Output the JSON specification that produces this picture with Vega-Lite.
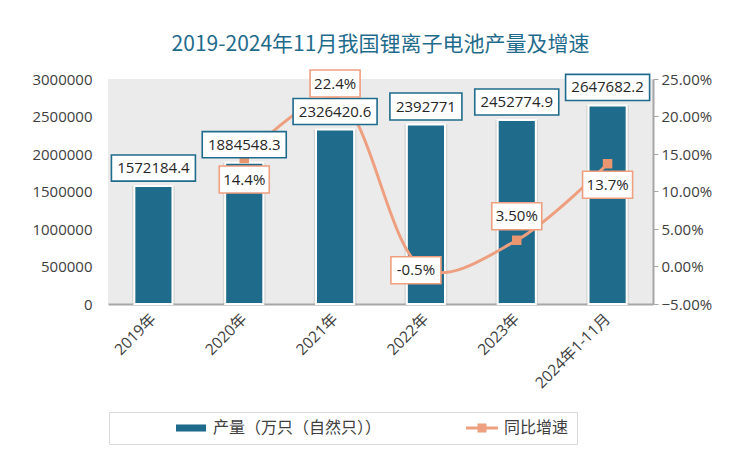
{
  "$schema": "https://vega.github.io/schema/vega-lite/v6.json",
  "width": 545,
  "height": 225,
  "autosize": {"type": "none"},
  "padding": {"left": 108, "top": 79, "right": 97, "bottom": 168},
  "background": "white",
  "title": {
    "text": "2019-2024年11月我国锂离子电池产量及增速",
    "anchor": "middle",
    "frame": "group",
    "offset": 12,
    "fontSize": 21,
    "font": "Noto Sans CJK SC",
    "fontWeight": "normal",
    "color": "#1f6b8c"
  },
  "config": {
    "view": {"fill": "#ebebeb", "stroke": null},
    "axis": {
      "labelFont": "Open Sans, Noto Sans CJK SC",
      "labelFontSize": 15,
      "labelColor": "#404040",
      "labelOverlap": false,
      "grid": false,
      "title": null
    }
  },
  "data": {
    "values": [
      {"year": "2019年", "output": 1572184.4, "outLabel": "1572184.4", "growth": null, "gLabel": null},
      {"year": "2020年", "output": 1884548.3, "outLabel": "1884548.3", "growth": 0.144, "gLabel": "14.4%"},
      {"year": "2021年", "output": 2326420.6, "outLabel": "2326420.6", "growth": 0.224, "gLabel": "22.4%"},
      {"year": "2022年", "output": 2392771, "outLabel": "2392771", "growth": -0.005, "gLabel": "-0.5%"},
      {"year": "2023年", "output": 2452774.9, "outLabel": "2452774.9", "growth": 0.035, "gLabel": "3.50%"},
      {"year": "2024年1-11月", "output": 2647682.2, "outLabel": "2647682.2", "growth": 0.137, "gLabel": "13.7%"}
    ]
  },
  "encoding": {
    "x": {
      "field": "year",
      "type": "nominal",
      "sort": null,
      "scale": {"paddingInner": 0.58, "paddingOuter": 0.29},
      "axis": {
        "title": null,
        "labelAngle": -45,
        "labelAlign": "right",
        "labelBaseline": "middle",
        "ticks": false,
        "domainColor": "#a6a6a6",
        "domainWidth": 2,
        "labelPadding": 12,
        "labelFontSize": 15.5
      }
    }
  },
  "layer": [
    {
      "layer": [
        {
          "mark": {"type": "bar", "fill": "#808080", "opacity": 0.2, "width": {"band": 1.12}},
          "encoding": {
            "y": {
              "field": "output",
              "type": "quantitative",
              "scale": {"domain": [0, 3000000], "nice": false},
              "axis": {
                "orient": "left",
                "title": null,
                "values": [0, 500000, 1000000, 1500000, 2000000, 2500000, 3000000],
                "format": "d",
                "domain": false,
                "ticks": false,
                "labelPadding": 16
              }
            }
          }
        },
        {
          "mark": {"type": "bar", "stroke": "white", "strokeWidth": 2},
          "encoding": {
            "y": {
              "field": "output",
              "type": "quantitative",
              "axis": {
                "orient": "left",
                "title": null,
                "values": [0, 500000, 1000000, 1500000, 2000000, 2500000, 3000000],
                "format": "d",
                "domain": false,
                "ticks": false,
                "labelPadding": 16
              }
            },
            "color": {
              "datum": "产量（万只（自然只））",
              "type": "nominal",
              "scale": {"domain": ["产量（万只（自然只））", "同比增速"], "range": ["#1f6b8c", "#ee9f7f"]},
              "legend": {
                "title": null,
                "orient": "none",
                "legendX": 1,
                "legendY": 333,
                "direction": "horizontal",
                "strokeColor": "#d9d9d9",
                "padding": 8,
                "symbolOffset": 66,
                "columnPadding": 26,
                "labelFont": "Noto Sans CJK SC",
                "labelFontSize": 16,
                "labelColor": "#404040",
                "labelOffset": 14,
                "labelLimit": 400,
                "symbolSize": 256,
                "symbolStrokeWidth": 0,
                "symbolOpacity": 1,
                "symbolType": {"expr": "datum.value === '同比增速' ? 'M-2,-0.19L2,-0.19L2,0.19L-2,0.19Z M-0.56,-0.56L0.56,-0.56L0.56,0.56L-0.56,0.56Z' : 'M-1.875,-0.44L1.875,-0.44L1.875,0.44L-1.875,0.44Z'"},
                "encode": {
                  "symbols": {
                    "fill": {"value": {"expr": "datum.value === '同比增速' ? '#ee9f7f' : '#1f6b8c'"}},
                    "opacity": {"value": 1},
                    "fillOpacity": {"value": 1}
                  }
                }
              }
            }
          }
        }
      ]
    },
    {
      "transform": [{"filter": "datum.growth != null"}],
      "layer": [
        {
          "mark": {"type": "line", "interpolate": "catmull-rom", "strokeWidth": 3},
          "encoding": {
            "y": {
              "field": "growth",
              "type": "quantitative",
              "scale": {"domain": [-0.05, 0.25], "nice": false, "zero": false},
              "axis": {
                "orient": "right",
                "title": null,
                "values": [-0.05, 0, 0.05, 0.1, 0.15, 0.2, 0.25],
                "format": ".2%",
                "domainColor": "#a6a6a6",
                "domainWidth": 2,
                "tickColor": "#a6a6a6",
                "tickSize": 5,
                "labelPadding": 3
              }
            },
            "color": {"datum": "同比增速", "type": "nominal"}
          }
        },
        {
          "mark": {"type": "point", "shape": "square", "filled": true, "size": 90, "color": "#e9956f", "opacity": 1},
          "encoding": {
            "y": {
              "field": "growth",
              "type": "quantitative",
              "axis": {
                "orient": "right",
                "title": null,
                "values": [-0.05, 0, 0.05, 0.1, 0.15, 0.2, 0.25],
                "format": ".2%",
                "domainColor": "#a6a6a6",
                "domainWidth": 2,
                "tickColor": "#a6a6a6",
                "tickSize": 5,
                "labelPadding": 3
              }
            }
          }
        }
      ]
    },
    {
      "encoding": {
        "y": {"field": "output", "type": "quantitative", "scale": {"domain": [0, 3000000], "nice": false}, "axis": null}
      },
      "layer": [
        {
          "transform": [{"filter": "datum.year !== '2022年'"}],
          "mark": {"type": "point", "shape": "M-1,-0.31L1,-0.31L1,0.31L-1,0.31Z", "size": 7056, "filled": true, "fill": "white", "stroke": "#1f6b8c", "strokeWidth": 1.6, "opacity": 1, "strokeOpacity": 1, "yOffset": -18}
        },
        {
          "transform": [{"filter": "datum.year === '2022年'"}],
          "mark": {"type": "point", "shape": "M-1,-0.375L1,-0.375L1,0.375L-1,0.375Z", "size": 5184, "filled": true, "fill": "white", "stroke": "#1f6b8c", "strokeWidth": 1.6, "opacity": 1, "strokeOpacity": 1, "yOffset": -18}
        },
        {
          "mark": {"type": "text", "yOffset": -18, "fontSize": 15, "font": "Open Sans", "color": "#262626", "baseline": "middle"},
          "encoding": {"text": {"field": "outLabel"}}
        }
      ]
    },
    {
      "transform": [{"filter": "datum.growth != null"}],
      "encoding": {
        "y": {"field": "growth", "type": "quantitative", "scale": {"domain": [-0.05, 0.25], "nice": false, "zero": false}, "axis": null},
        "text": {"field": "gLabel"}
      },
      "layer": [
        {
          "transform": [{"filter": "datum.year === '2020年' || datum.year === '2024年1-11月'"}],
          "layer": [
            {"mark": {"type": "point", "shape": "M-1,-0.54L1,-0.54L1,0.54L-1,0.54Z", "size": 2500, "filled": true, "fill": "white", "stroke": "#ee9f7f", "strokeWidth": 1.6, "opacity": 1, "strokeOpacity": 1, "yOffset": 21}},
            {"mark": {"type": "text", "yOffset": 21, "fontSize": 15, "font": "Open Sans", "color": "#262626", "baseline": "middle"}}
          ]
        },
        {
          "transform": [{"filter": "datum.year === '2021年'"}],
          "layer": [
            {"mark": {"type": "point", "shape": "M-1,-0.54L1,-0.54L1,0.54L-1,0.54Z", "size": 2500, "filled": true, "fill": "white", "stroke": "#ee9f7f", "strokeWidth": 1.6, "opacity": 1, "strokeOpacity": 1, "yOffset": -15}},
            {"mark": {"type": "text", "yOffset": -15, "fontSize": 15, "font": "Open Sans", "color": "#262626", "baseline": "middle"}}
          ]
        },
        {
          "transform": [{"filter": "datum.year === '2022年'"}],
          "layer": [
            {"mark": {"type": "point", "shape": "M-1,-0.54L1,-0.54L1,0.54L-1,0.54Z", "size": 2500, "filled": true, "fill": "white", "stroke": "#ee9f7f", "strokeWidth": 1.6, "opacity": 1, "strokeOpacity": 1, "xOffset": -10}},
            {"mark": {"type": "text", "xOffset": -10, "fontSize": 15, "font": "Open Sans", "color": "#262626", "baseline": "middle"}}
          ]
        },
        {
          "transform": [{"filter": "datum.year === '2023年'"}],
          "layer": [
            {"mark": {"type": "point", "shape": "M-1,-0.54L1,-0.54L1,0.54L-1,0.54Z", "size": 2500, "filled": true, "fill": "white", "stroke": "#ee9f7f", "strokeWidth": 1.6, "opacity": 1, "strokeOpacity": 1, "yOffset": -24}},
            {"mark": {"type": "text", "yOffset": -24, "fontSize": 15, "font": "Open Sans", "color": "#262626", "baseline": "middle"}}
          ]
        }
      ]
    }
  ],
  "resolve": {"scale": {"y": "independent"}}
}
